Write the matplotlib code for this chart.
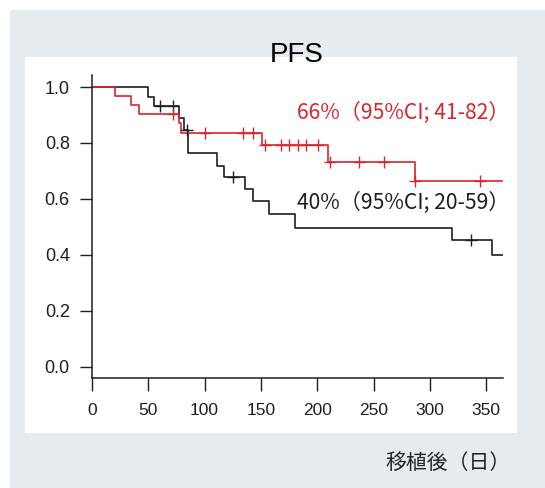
import matplotlib.pyplot as plt
from matplotlib.patches import Rectangle

# PFS Kaplan-Meier curves
black_t = [0, 50, 55, 77, 82, 85, 111, 117, 136, 143, 157, 180, 320, 355, 365]
black_s = [1.0, 0.966, 0.931, 0.89, 0.847, 0.763, 0.717, 0.678, 0.636, 0.592, 0.545, 0.497, 0.455, 0.40, 0.40]
black_cens_t = [60, 72, 84, 125, 337]
black_cens_s = [0.931, 0.931, 0.847, 0.678, 0.455]

red_t = [0, 20.5, 34.5, 42, 77, 79, 151, 209.5, 286.5, 364]
red_s = [1.0, 0.968, 0.935, 0.902, 0.87, 0.834, 0.793, 0.733, 0.665, 0.665]
red_cens_t = [72, 100, 134, 143, 154, 168, 175, 183, 190, 201, 211, 237.5, 259, 287, 345]
red_cens_s = [0.902, 0.834, 0.834, 0.834, 0.793, 0.793, 0.793, 0.793, 0.793, 0.793,
              0.733, 0.733, 0.733, 0.665, 0.665]

xticks = [0, 50, 100, 150, 200, 250, 300, 350]
yticks = [0.0, 0.2, 0.4, 0.6, 0.8, 1.0]
title = "PFS"
red_label = "66%（95%CI; 41-82）"
black_label = "40%（95%CI; 20-59）"
xlabel = "移植後（日）"

RED = "#d8242c"
BLK = "#1e1e1e"

W, H = 545, 488
fig = plt.figure(figsize=(W / 100, H / 100), dpi=100)
fig.patch.set_facecolor("white")

# grey backdrop and white plotting panel
fig.add_artist(Rectangle((10 / W, 0), 1 - 10 / W, 1 - 10 / H, transform=fig.transFigure,
                         facecolor="#e5ebee", edgecolor="none", zorder=-2))
fig.add_artist(Rectangle((25 / W, 1 - 433 / H), (517 - 25) / W, (433 - 57) / H,
                         transform=fig.transFigure, facecolor="white", edgecolor="none", zorder=-1))

ax = fig.add_axes([92 / W, 1 - 378 / H, (503 - 92) / W, (378 - 75) / H])
ax.set_facecolor("none")

ax.step(black_t, black_s, where="post", color=BLK, lw=1.2)
ax.step(red_t, red_s, where="post", color=RED, lw=1.2)
ax.plot(black_cens_t, black_cens_s, ls="none", marker="+", ms=9, mew=1.0, color=BLK)
ax.plot(red_cens_t, red_cens_s, ls="none", marker="+", ms=9, mew=1.0, color=RED)

ax.set_xlim(0, 365)
ax.set_ylim(-0.04, 1.043)
ax.set_xticks(xticks)
ax.set_yticks(yticks)
ax.set_yticklabels([f"{v:.1f}" for v in yticks])
for s in ["top", "right"]:
    ax.spines[s].set_visible(False)
for s in ["left", "bottom"]:
    ax.spines[s].set_linewidth(1.1)
    ax.spines[s].set_color(BLK)
ax.tick_params(axis="y", length=9, width=1.0, pad=7, labelsize=13, colors=BLK)
ax.tick_params(axis="x", length=9, width=1.0, pad=9, labelsize=12.5, colors=BLK)
for lab in ax.get_xticklabels() + ax.get_yticklabels():
    lab.set_family("Liberation Sans")

cjk = ["Noto Sans CJK JP", "DejaVu Sans"]
ax.text(182, 0.907, red_label, color=RED, fontsize=15.2, family=cjk, ha="left", va="center")
ax.text(182, 0.586, black_label, color=BLK, fontsize=15.2, family=cjk, ha="left", va="center")

fig.text(296.5 / W, 1 - 55 / H, title, fontsize=20, family="Liberation Sans",
         ha="center", va="center", color="black")
fig.text(511 / W, 1 - 463 / H, xlabel, fontsize=15, family=cjk, ha="right", va="center",
         color="#222222")

fig.savefig("out.png", dpi=100)
